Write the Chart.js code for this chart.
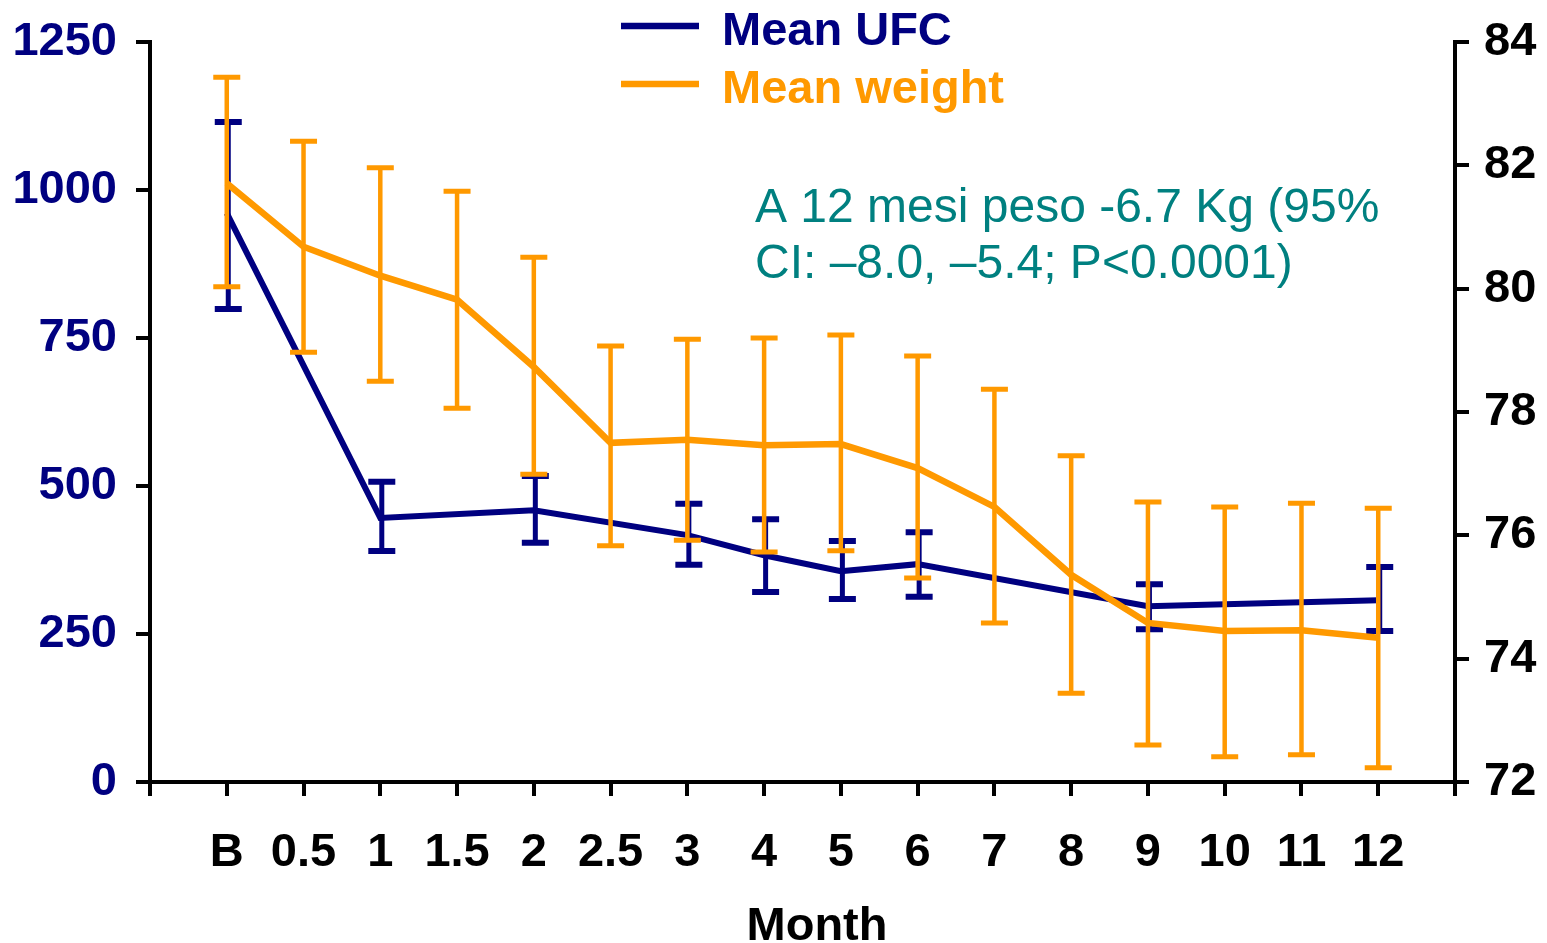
<!DOCTYPE html>
<html>
<head>
<meta charset="utf-8">
<script src="https://cdn.jsdelivr.net/npm/chart.js@4/dist/chart.umd.min.js"></script>
<style>
  html, body { margin: 0; padding: 0; background: #ffffff; }
  #wrap { width: 1547px; height: 943px; position: relative; }
</style>
</head>
<body>
<div id="wrap"><canvas id="c" width="1547" height="943"></canvas></div>
<script>
const categories = ['B', '0.5', '1', '1.5', '2', '2.5', '3', '4', '5', '6', '7', '8', '9', '10', '11', '12'];

const ufcMean  = [961, null, 446, null, 459, null, 417, 383, 356, 368, null, null, 297, null, null, 307];
const ufcUpper = [1115, null, 507, null, 517, null, 470, 444, 407, 422, null, null, 334, null, null, 363];
const ufcLower = [799, null, 390, null, 404, null, 367, 321, 309, 313, null, null, 258, null, null, 255];

const weightMean  = [81.71, 80.68, 80.21, 79.82, 78.73, 77.50, 77.55, 77.46, 77.48, 77.09, 76.46, 75.36, 74.58, 74.45, 74.46, 74.34];
const weightUpper = [83.43, 82.39, 81.96, 81.58, 80.51, 79.07, 79.18, 79.20, 79.25, 78.91, 78.37, 77.29, 76.54, 76.46, 76.52, 76.44];
const weightLower = [80.03, 78.97, 78.50, 78.06, 76.99, 75.83, 75.92, 75.73, 75.75, 75.31, 74.58, 73.44, 72.60, 72.41, 72.44, 72.23];

const leftTicks = [0, 250, 500, 750, 1000, 1250];
const rightTicks = [72, 74, 76, 78, 80, 82, 84];

const seriesNames = ['Mean UFC', 'Mean weight'];
const noteLines = ['A 12 mesi peso -6.7 Kg (95%', 'CI: \u20138.0, \u20135.4; P<0.0001)'];
const xTitle = 'Month';

const NAVY = '#000080';
const ORANGE = '#FF9900';
const TEAL = '#008080';
const FONT = "'Liberation Sans', Arial, Helvetica, sans-serif";

const errorBarSets = [
  { upper: ufcUpper, lower: ufcLower, color: NAVY, width: 5, capWidth: 27, capThickness: 6, axis: 'yL', dx: 1.5 },
  { upper: weightUpper, lower: weightLower, color: ORANGE, width: 4.5, capWidth: 27, capThickness: 5, axis: 'yR', dx: 0 }
];

const errorBarPlugin = {
  id: 'errorBars',
  afterDatasetDraw(chart, args) {
    const eb = errorBarSets[args.index];
    if (!eb) return;
    const ctx = chart.ctx;
    const xs = chart.scales.x;
    const ys = chart.scales[eb.axis];
    ctx.save();
    ctx.strokeStyle = eb.color;
    ctx.lineCap = 'butt';
    for (let i = 0; i < eb.upper.length; i++) {
      if (eb.upper[i] == null || eb.lower[i] == null) continue;
      const x = xs.getPixelForValue(i) + eb.dx;
      const yU = ys.getPixelForValue(eb.upper[i]);
      const yL = ys.getPixelForValue(eb.lower[i]);
      ctx.lineWidth = eb.width;
      ctx.beginPath();
      ctx.moveTo(x, yU);
      ctx.lineTo(x, yL);
      ctx.stroke();
      ctx.lineWidth = eb.capThickness;
      ctx.beginPath();
      ctx.moveTo(x - eb.capWidth / 2, yU);
      ctx.lineTo(x + eb.capWidth / 2, yU);
      ctx.moveTo(x - eb.capWidth / 2, yL);
      ctx.lineTo(x + eb.capWidth / 2, yL);
      ctx.stroke();
    }
    ctx.restore();
  }
};

const legendNotePlugin = {
  id: 'legendNote',
  afterDraw(chart) {
    const ctx = chart.ctx;
    ctx.save();
    const items = [
      { text: seriesNames[0], color: NAVY, y: 26 },
      { text: seriesNames[1], color: ORANGE, y: 84 }
    ];
    items.forEach(it => {
      ctx.strokeStyle = it.color;
      ctx.lineWidth = 6.5;
      ctx.beginPath();
      ctx.moveTo(621, it.y);
      ctx.lineTo(699, it.y);
      ctx.stroke();
      ctx.fillStyle = it.color;
      ctx.font = 'bold 47px ' + FONT;
      ctx.textBaseline = 'alphabetic';
      ctx.textAlign = 'left';
      ctx.fillText(it.text, 722, it.y + 19);
    });
    // note
    ctx.fillStyle = TEAL;
    ctx.font = '48px ' + FONT;
    ctx.fillText(noteLines[0], 755, 222);
    ctx.fillText(noteLines[1], 755, 278);
    // x axis title
    ctx.fillStyle = '#000000';
    ctx.font = 'bold 47px ' + FONT;
    ctx.textAlign = 'center';
    ctx.fillText(xTitle, 817, 940);
    ctx.restore();
  }
};

const ufcData = ufcMean.map((v, i) => ({ x: i, y: v }));
const weightData = weightMean.map((v, i) => ({ x: i, y: v }));

const gridCommon = {
  drawOnChartArea: false,
  drawTicks: true,
  tickLength: 14,
  tickWidth: 4,
  tickColor: '#000000',
  color: '#000000',
  lineWidth: 4
};
const borderCommon = { display: true, color: '#000000', width: 4 };

new Chart(document.getElementById('c'), {
  type: 'line',
  data: {
    datasets: [
      {
        label: seriesNames[0],
        data: ufcData,
        yAxisID: 'yL',
        borderColor: NAVY,
        backgroundColor: NAVY,
        borderWidth: 6,
        pointRadius: 0,
        tension: 0,
        spanGaps: true,
        order: 1
      },
      {
        label: seriesNames[1],
        data: weightData,
        yAxisID: 'yR',
        borderColor: ORANGE,
        backgroundColor: ORANGE,
        borderWidth: 6.5,
        pointRadius: 0,
        tension: 0,
        spanGaps: true,
        order: 0
      }
    ]
  },
  options: {
    responsive: false,
    animation: false,
    layout: { padding: { top: 42, left: 0, right: 0, bottom: 0 } },
    plugins: {
      legend: { display: false },
      tooltip: { enabled: false },
      title: { display: false }
    },
    scales: {
      x: {
        type: 'linear',
        position: 'bottom',
        min: -1,
        max: 16,
        afterBuildTicks(scale) {
          const t = [];
          for (let v = -1; v <= 16; v++) t.push({ value: v });
          scale.ticks = t;
        },
        afterFit(scale) { scale.height = 161; scale.paddingLeft = 0; scale.paddingRight = 0; },
        ticks: {
          autoSkip: false,
          maxRotation: 0,
          color: '#000000',
          padding: 29,
          font: { family: FONT, size: 47, weight: 'bold' },
          callback: (v) => (v >= 0 && v < categories.length) ? categories[v] : ''
        },
        grid: gridCommon,
        border: borderCommon,
        title: { display: false }
      },
      yL: {
        type: 'linear',
        position: 'left',
        min: 0,
        max: 1250,
        afterBuildTicks(scale) { scale.ticks = leftTicks.map(v => ({ value: v })); },
        afterFit(scale) { scale.width = 150; scale.paddingTop = 0; scale.paddingBottom = 0; },
        ticks: {
          color: NAVY,
          padding: 19,
          font: { family: FONT, size: 47, weight: 'bold' },
          callback: (v) => String(v)
        },
        grid: gridCommon,
        border: borderCommon
      },
      yR: {
        type: 'linear',
        position: 'right',
        min: 72,
        max: 84,
        afterBuildTicks(scale) { scale.ticks = rightTicks.map(v => ({ value: v })); },
        afterFit(scale) { scale.width = 92; scale.paddingTop = 0; scale.paddingBottom = 0; },
        ticks: {
          color: '#000000',
          padding: 15,
          font: { family: FONT, size: 47, weight: 'bold' },
          callback: (v) => String(v)
        },
        grid: gridCommon,
        border: borderCommon
      }
    }
  },
  plugins: [errorBarPlugin, legendNotePlugin]
});
</script>
</body>
</html>
